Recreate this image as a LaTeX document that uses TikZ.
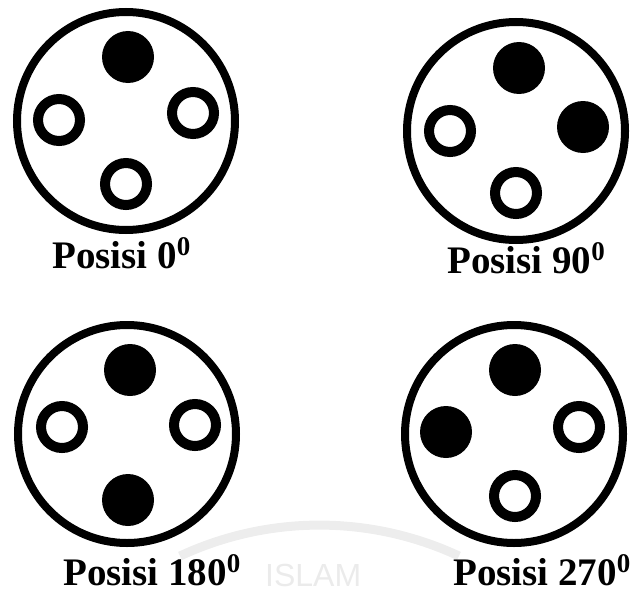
\documentclass[tikz,border=0pt]{standalone}
\usepackage{fontspec}
\setmainfont{Liberation Serif}
\newfontfamily\wmfont{Liberation Sans}
\begin{document}
\begin{tikzpicture}[x=1pt,y=-1pt,
  outer/.style={draw=black,line width=8pt,fill=white},
  full/.style={circle,fill=black,draw=none,minimum size=52pt,inner sep=0pt},
  hole/.style={circle,fill=white,draw=black,line width=10pt,minimum size=42pt,inner sep=0pt},
  lbl/.style={anchor=base west,inner sep=0pt,font=\bfseries\fontsize{39}{39}\selectfont}]
\newcommand\degsup{\raisebox{13pt}{\fontsize{27}{27}\selectfont 0}}
\useasboundingbox (0,0) rectangle (644,594);
% faint watermark
\draw[black!7,line width=9pt] (180,556) arc[start angle=245,end angle=295,radius=330];
\node[anchor=base west,inner sep=0pt,text=black!8,font=\wmfont\fontsize{32}{32}\selectfont] (wm) at (265,586) {ISLAM};
% circle 1
\draw[outer] (126,121) circle[radius=109];
\node[full] (a1) at (128,57) {};
\node[hole] (a2) at (59,120) {};
\node[hole] (a3) at (193,113) {};
\node[hole] (a4) at (126,184) {};
\node[lbl] (l1) at (52,268) {Posisi 0\degsup};
% circle 2
\draw[outer] (516,131) circle[radius=109];
\node[full] (b1) at (519,68) {};
\node[full] (b2) at (583,127) {};
\node[hole] (b3) at (450,131) {};
\node[hole] (b4) at (516,193) {};
\node[lbl] (l2) at (447,273) {Posisi 90\degsup};
% circle 3
\draw[outer] (127,434) circle[radius=109];
\node[full] (c1) at (130,370) {};
\node[hole] (c2) at (62,427) {};
\node[hole] (c3) at (195,425) {};
\node[full] (c4) at (128,500) {};
\node[lbl] (l3) at (63,585) {Posisi 180\degsup};
% circle 4
\draw[outer] (514,434) circle[radius=109];
\node[full] (d1) at (515,370) {};
\node[full] (d2) at (446,432) {};
\node[hole] (d3) at (579,427) {};
\node[hole] (d4) at (515,496) {};
\node[lbl] (l4) at (453,585) {Posisi 270\degsup};
\end{tikzpicture}
\end{document}
